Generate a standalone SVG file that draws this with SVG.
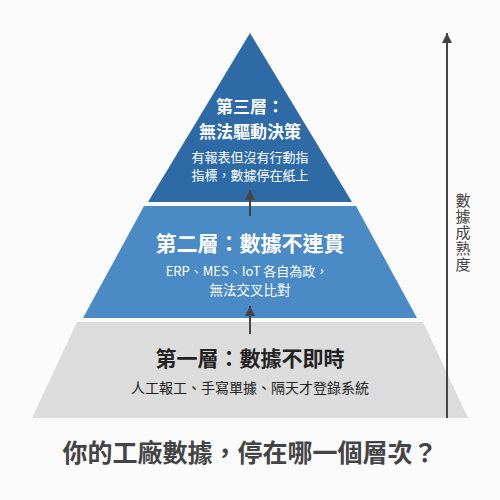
<svg xmlns="http://www.w3.org/2000/svg" width="500" height="500" viewBox="0 0 500 500">
  <defs>
    <style>
      text { font-family: "Noto Sans CJK TC", "Noto Sans", sans-serif; text-anchor: middle; }
      .w { fill: #ffffff; }
      .d { fill: #222222; }
      .b { font-weight: 700; }
      .conn { stroke: #444444; stroke-width: 2; fill: none; }
    </style>
    <marker id="ah" viewBox="0 0 10 10" refX="10" refY="5" markerWidth="5" markerHeight="5" orient="auto">
      <path d="M0,0 L10,5 L0,10 z" fill="#444444"/>
    </marker>
  </defs>
  <rect width="500" height="500" fill="#fbfbfb"/>

  <g id="layer3">
    <polygon points="250,33 352,202 148,202" fill="#2d6aa6"/>
    <text class="w b" x="250" y="113" font-size="17">第三層：</text>
    <text class="w b" x="250" y="138" font-size="17">無法驅動決策</text>
    <text class="w" x="250" y="162" font-size="13">有報表但沒有行動指</text>
    <text class="w" x="250" y="180" font-size="13">指標，數據停在紙上</text>
  </g>

  <g id="layer2">
    <polygon points="144,206 356,206 417,318 83,318" fill="#4a8bc6"/>
    <text class="w b" x="250" y="251" font-size="21">第二層：數據不連貫</text>
    <text class="w" x="247" y="276" font-size="13">ERP、MES、IoT 各自為政，</text>
    <text class="w" x="250" y="295" font-size="13.5">無法交叉比對</text>
  </g>

  <g id="layer1">
    <polygon points="77,322 423,322 468,418 32,418" fill="#dcdcdc"/>
    <text class="d b" x="250" y="366" font-size="21">第一層：數據不即時</text>
    <text class="d" x="250" y="393" font-size="14">人工報工、手寫單據、隔天才登錄系統</text>
  </g>

  <g id="connectors">
    <line class="conn" x1="250" y1="216" x2="250" y2="190" marker-end="url(#ah)"/>
    <line class="conn" x1="250" y1="334" x2="250" y2="306" marker-end="url(#ah)"/>
    <line class="conn" x1="447" y1="418" x2="447" y2="33" marker-end="url(#ah)"/>
  </g>

  <g id="axis-label">
    <text x="463" y="233" font-size="15" fill="#444444" writing-mode="vertical-rl" letter-spacing="1">數據成熟度</text>
  </g>

  <g id="title">
    <text x="250" y="462" font-size="25" font-weight="700" fill="#444444">你的工廠數據，停在哪一個層次？</text>
  </g>
</svg>
